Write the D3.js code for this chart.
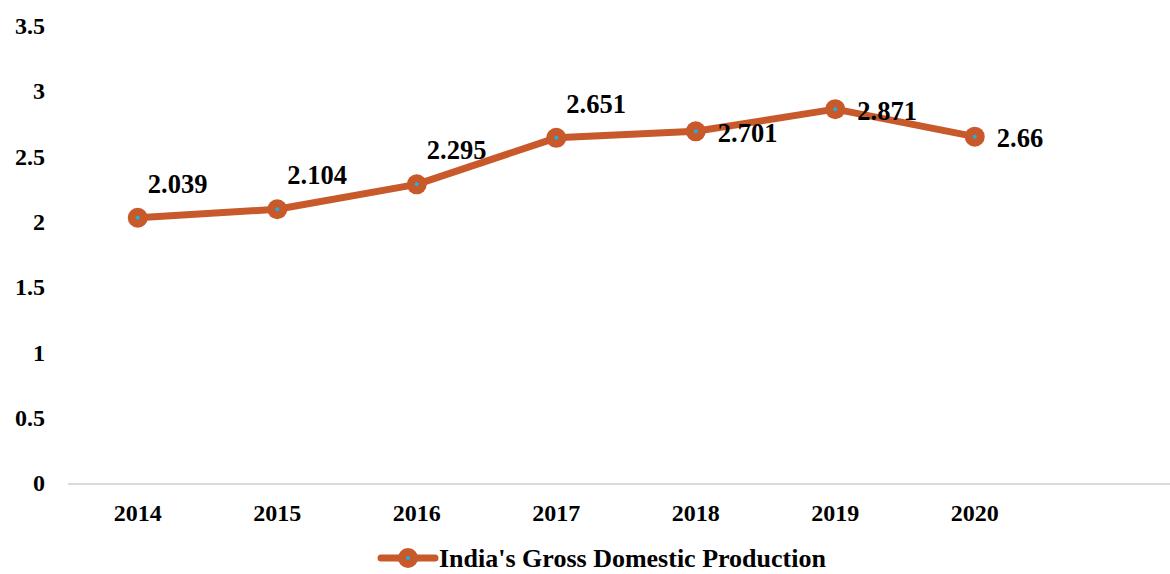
<!DOCTYPE html>
<html>
<head>
<meta charset="utf-8">
<script src="https://cdn.jsdelivr.net/npm/d3@7/dist/d3.min.js"></script>
<style>
  html, body { margin: 0; padding: 0; background: #fff; }
  svg { display: block; font-family: "Liberation Serif", "Times New Roman", serif; font-weight: bold; }
</style>
</head>
<body>
<svg id="chart" width="1170" height="574"></svg>
<script>
// chart data
const years = ['2014', '2015', '2016', '2017', '2018', '2019', '2020'];
const gdp = [2.039, 2.104, 2.295, 2.651, 2.701, 2.871, 2.66];
const yTicks = [0, 0.5, 1, 1.5, 2, 2.5, 3, 3.5];
const seriesName = "India's Gross Domestic Production";

(function(){
  const svg = d3.select('#chart');
  const lineColor = '#c8592a';
  const dotColor = '#1bb0e6';

  const x = d3.scaleBand().domain(years).range([68, 68 + years.length * 139.5]);
  const y = d3.scaleLinear().domain([0, 3.5]).range([484, 27]);
  const cx = d => x(d) + x.bandwidth() / 2;

  // y tick labels (no gridlines)
  svg.append('g').selectAll('text').data(yTicks).join('text')
    .attr('x', 45).attr('y', d => y(d)).attr('dy', '0.3em')
    .attr('text-anchor', 'end').style('font-size', '24px').style('fill', '#000')
    .text(d => d);

  // x axis line
  svg.append('line').attr('x1', 68).attr('x2', 1170).attr('y1', y(0)).attr('y2', y(0))
    .attr('stroke', '#d9d9d9').attr('stroke-width', 2);

  // x tick labels
  svg.append('g').selectAll('text').data(years).join('text')
    .attr('x', d => cx(d)).attr('y', 521)
    .attr('text-anchor', 'middle').style('font-size', '24px').style('fill', '#000')
    .text(d => d);

  const pts = years.map((yr, i) => ({year: yr, v: gdp[i], i}));

  // series line
  svg.append('path').datum(pts)
    .attr('d', d3.line().x(d => cx(d.year)).y(d => y(d.v)))
    .attr('fill', 'none').attr('stroke', lineColor).attr('stroke-width', 7)
    .attr('stroke-linejoin', 'round').attr('stroke-linecap', 'round');

  // markers
  const m = svg.append('g').selectAll('g').data(pts).join('g')
    .attr('transform', d => `translate(${cx(d.year)},${y(d.v)})`);
  m.append('circle').attr('r', 10).attr('fill', lineColor);
  m.append('circle').attr('r', 2).attr('fill', dotColor);

  // data labels: first four sit above-right, later ones to the right
  svg.append('g').selectAll('text').data(pts).join('text')
    .attr('x', d => cx(d.year) + (d.i < 4 ? 10 : 22))
    .attr('y', d => y(d.v) + (d.i < 4 ? -34 : 2))
    .attr('dy', '0.33em')
    .style('font-size', '26.5px').style('fill', '#000')
    .text(d => d.v);

  // legend
  const lg = svg.append('g').attr('transform', 'translate(408,558)');
  lg.append('line').attr('x1', -27).attr('x2', 27).attr('y1', 0).attr('y2', 0)
    .attr('stroke', lineColor).attr('stroke-width', 7).attr('stroke-linecap', 'round');
  lg.append('circle').attr('r', 10).attr('fill', lineColor);
  lg.append('circle').attr('r', 2).attr('fill', dotColor);
  lg.append('text').attr('x', 31).attr('y', 0).attr('dy', '0.33em')
    .style('font-size', '26px').style('fill', '#000').text(seriesName);
})();
</script>
</body>
</html>
